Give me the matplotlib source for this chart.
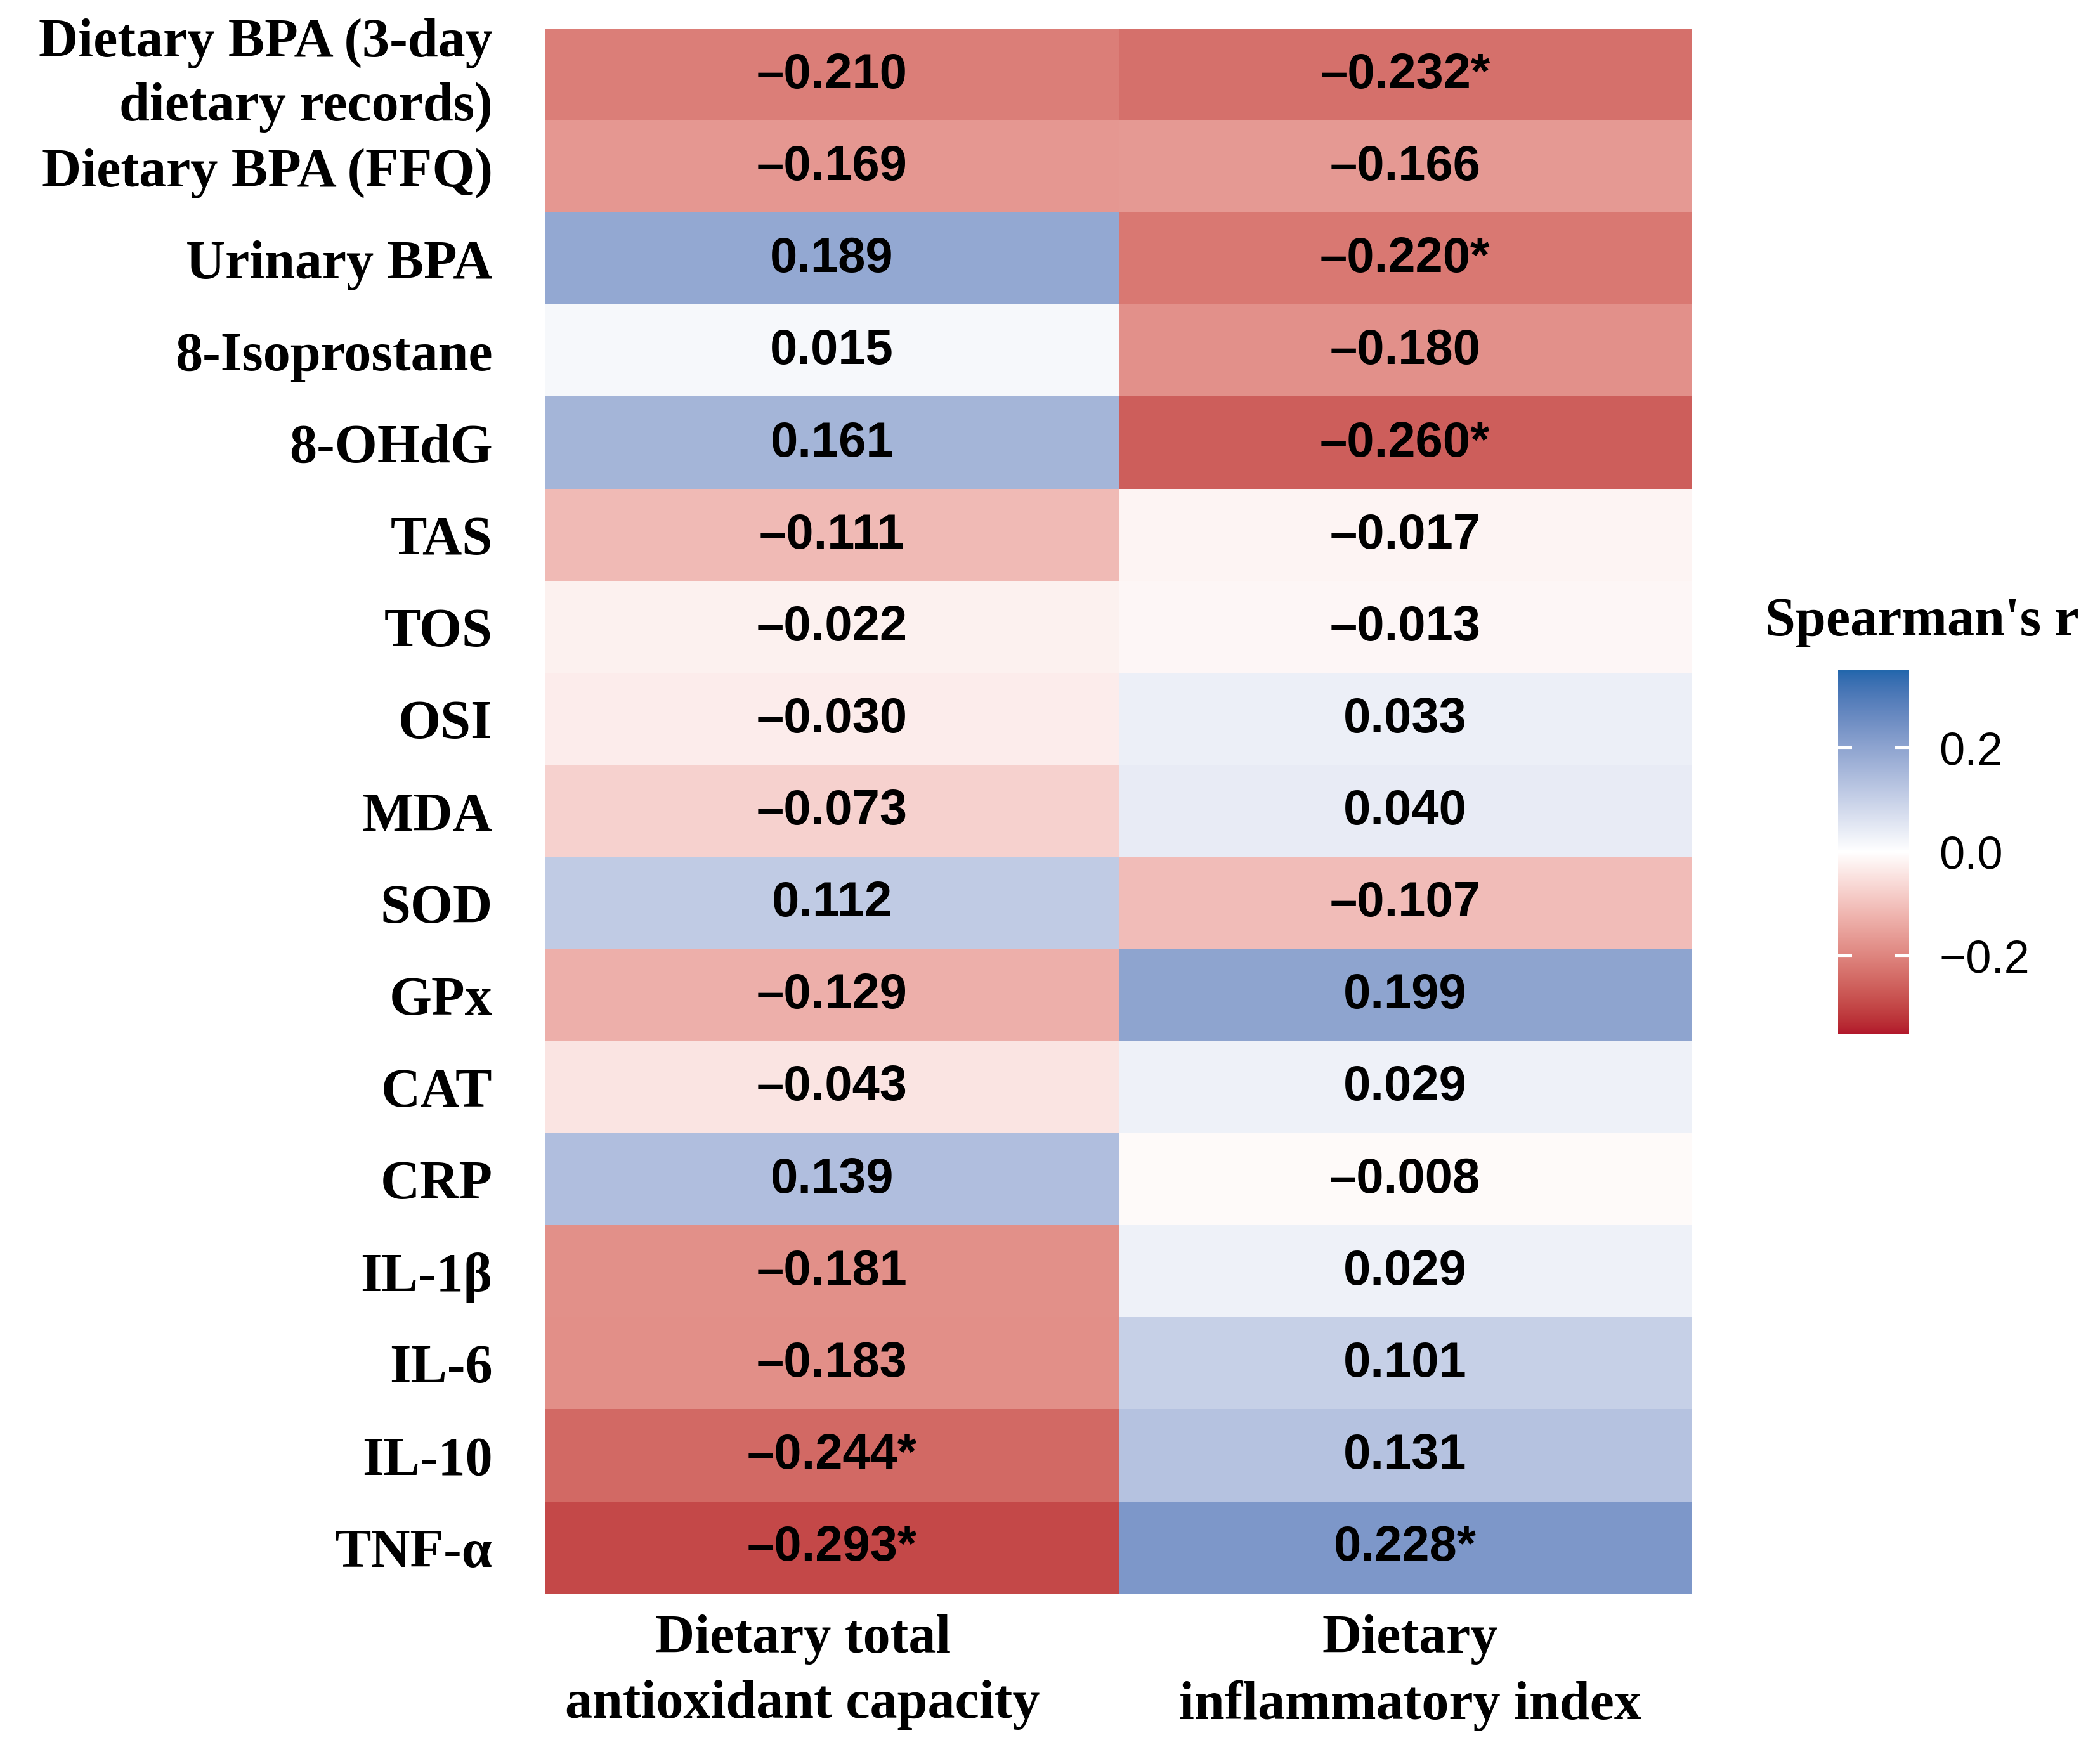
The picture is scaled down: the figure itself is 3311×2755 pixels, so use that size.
#!/usr/bin/env python3
"""Spearman correlation heatmap: dietary indices vs BPA / oxidative-stress markers"""

import numpy as np
import matplotlib
matplotlib.use("Agg")
import matplotlib.pyplot as plt
from matplotlib.colors import ListedColormap, to_rgb
from matplotlib.transforms import ScaledTranslation

# --- data ---
row_labels = [
    "Dietary BPA (3-day\ndietary records)", "Dietary BPA (FFQ)", "Urinary BPA",
    "8-Isoprostane", "8-OHdG", "TAS", "TOS", "OSI", "MDA", "SOD", "GPx",
    "CAT", "CRP", "IL-1β", "IL-6", "IL-10", "TNF-α",
]
col_labels = ["Dietary total\nantioxidant capacity", "Dietary\ninflammatory index"]

dtac_r = [-0.210, -0.169, 0.189, 0.015, 0.161, -0.111, -0.022, -0.030, -0.073,
          0.112, -0.129, -0.043, 0.139, -0.181, -0.183, -0.244, -0.293]
dii_r = [-0.232, -0.166, -0.220, -0.180, -0.260, -0.017, -0.013, 0.033, 0.040,
         -0.107, 0.199, 0.029, -0.008, 0.029, 0.101, 0.131, 0.228]
dtac_sig = [0, 0, 0, 0, 0, 0, 0, 0, 0, 0, 0, 0, 0, 0, 0, 1, 1]
dii_sig = [1, 0, 1, 0, 1, 0, 0, 0, 0, 0, 0, 0, 0, 0, 0, 0, 1]

limit = 0.35
cbar_ticks = [-0.2, 0.0, 0.2]


# --- colour scale (ggplot-style gradient2, interpolated in Lab) ---
def srgb_to_lab(rgb):
    c = np.array(rgb, dtype=float)
    c = np.where(c <= 0.04045, c / 12.92, ((c + 0.055) / 1.055) ** 2.4)
    m = np.array([[0.4124, 0.3576, 0.1805],
                  [0.2126, 0.7152, 0.0722],
                  [0.0193, 0.1192, 0.9505]])
    xyz = m @ c / np.array([0.95047, 1.0, 1.08883])
    f = np.where(xyz > 0.008856, np.cbrt(xyz), 7.787 * xyz + 16 / 116)
    return np.array([116 * f[1] - 16, 500 * (f[0] - f[1]), 200 * (f[1] - f[2])])


def lab_to_srgb(lab):
    L, a, b = lab
    fy = (L + 16) / 116
    f = np.array([fy + a / 500, fy, fy - b / 200])
    xyz = np.where(f ** 3 > 0.008856, f ** 3, (f - 16 / 116) / 7.787)
    xyz = xyz * np.array([0.95047, 1.0, 1.08883])
    m = np.array([[3.2406, -1.5372, -0.4986],
                  [-0.9689, 1.8758, 0.0415],
                  [0.0557, -0.2040, 1.0570]])
    c = m @ xyz
    c = np.where(c <= 0.0031308, 12.92 * c, 1.055 * np.clip(c, 0, None) ** (1 / 2.4) - 0.055)
    return np.clip(c, 0, 1)


low = srgb_to_lab(to_rgb("#B2182B"))
mid = srgb_to_lab(to_rgb("#FFFFFF"))
high = srgb_to_lab(to_rgb("#2166AC"))
colors = []
for t in np.linspace(-1, 1, 512):
    if t < 0:
        colors.append(lab_to_srgb(mid + (low - mid) * (-t)))
    else:
        colors.append(lab_to_srgb(mid + (high - mid) * t))
cmap = ListedColormap(colors)

# --- figure ---
fig = plt.figure(figsize=(3311 / 200, 2755 / 200), dpi=200)
ax = fig.add_axes([0.2597, 0.0878, 0.5458, 0.8955])

data = np.column_stack([dtac_r, dii_r])
sig = np.column_stack([dtac_sig, dii_sig])
im = ax.imshow(data, cmap=cmap, vmin=-limit, vmax=limit, aspect="auto",
               interpolation="nearest")

for i in range(data.shape[0]):
    for j in range(data.shape[1]):
        txt = f"{data[i, j]:.3f}".replace("-", "\u2013")
        if sig[i, j]:
            txt += "*"
        ax.text(j, i, txt, ha="center", va="center", fontsize=28,
                fontweight="bold", family="Liberation Sans", color="black")

ax.set_xticks(range(len(col_labels)))
ax.set_xticklabels(col_labels, fontsize=31, fontweight="bold",
                   family="Liberation Serif", linespacing=1.4)
ax.set_yticks(range(len(row_labels)))
ax.set_yticklabels(row_labels, fontsize=31, fontweight="bold",
                   family="Liberation Serif", linespacing=1.35)
ax.tick_params(axis="both", length=0)
ax.tick_params(axis="y", pad=30)
ax.tick_params(axis="x", pad=12)
for spine in ax.spines.values():
    spine.set_visible(False)

# two-line row label centred on its row
for lbl in ax.get_yticklabels():
    if "\n" in lbl.get_text():
        lbl.set_va("center")

# first column label sits a little left of the cell centre in the original
for lbl, dx in zip(ax.get_xticklabels(), [-46, 8]):
    lbl.set_transform(lbl.get_transform() + ScaledTranslation(dx / 200, 0, fig.dpi_scale_trans))

# colour bar
cax = fig.add_axes([0.8753, 0.4083, 0.0338, 0.2083])
cbar = fig.colorbar(im, cax=cax, ticks=cbar_ticks)
cbar.outline.set_visible(False)
cax.tick_params(direction="in", length=8, width=1.5, color="white",
                left=True, right=True, labelleft=False, labelright=True,
                labelsize=26, pad=17)
cbar.ax.set_yticklabels(["\u22120.2", "0.0", "0.2"], family="Liberation Sans")
fig.text(0.9151, 0.6436, "Spearman's r", ha="center", va="center",
         fontsize=31, fontweight="bold", family="Liberation Serif")

plt.savefig("out.png", dpi=200, facecolor="white")
plt.close()
